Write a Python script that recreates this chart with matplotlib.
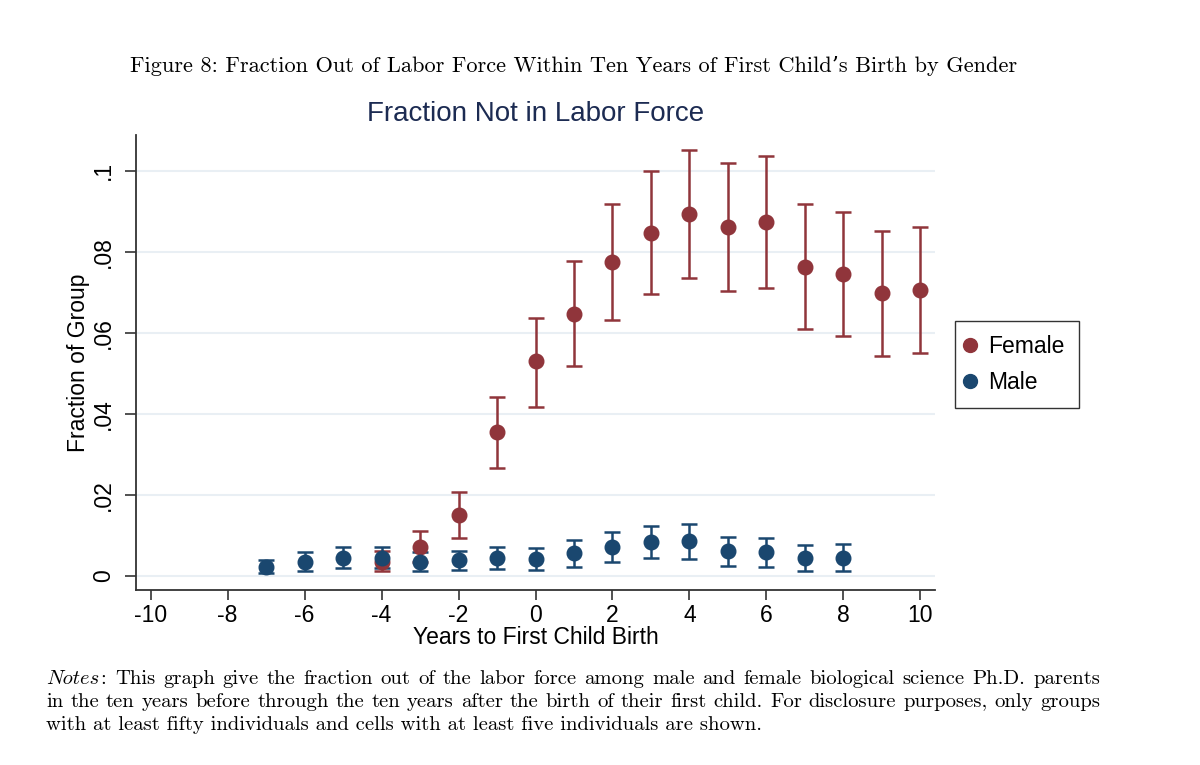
import matplotlib
matplotlib.use("Agg")
import matplotlib.pyplot as plt
from matplotlib import font_manager
from matplotlib.lines import Line2D
import numpy as np

plt.rcParams['axes.unicode_minus'] = False

# ---------------- data ----------------
years_female = [-4, -3, -2, -1, 0, 1, 2, 3, 4, 5, 6, 7, 8, 9, 10]
female_mean = [0.0035, 0.0072, 0.0149, 0.0354, 0.0529, 0.0647, 0.0774, 0.0845, 0.0893, 0.0861, 0.0873, 0.0762, 0.0745, 0.0697, 0.0705]
female_lo   = [0.0011, 0.0035, 0.0093, 0.0266, 0.0417, 0.0517, 0.0632, 0.0695, 0.0736, 0.0703, 0.0711, 0.0608, 0.0592, 0.0543, 0.0549]
female_hi   = [0.0062, 0.0111, 0.0206, 0.0441, 0.0636, 0.0778, 0.0918, 0.0998, 0.1052, 0.1020, 0.1036, 0.0918, 0.0898, 0.0851, 0.0860]

years_male = [-7, -6, -5, -4, -3, -2, -1, 0, 1, 2, 3, 4, 5, 6, 7, 8]
male_mean = [0.0023, 0.0035, 0.0044, 0.0043, 0.0035, 0.0038, 0.0044, 0.0041, 0.0057, 0.0071, 0.0083, 0.0085, 0.0061, 0.0058, 0.0044, 0.0045]
male_lo   = [0.0008, 0.0013, 0.0019, 0.0020, 0.0012, 0.0015, 0.0018, 0.0015, 0.0023, 0.0034, 0.0043, 0.0042, 0.0025, 0.0021, 0.0012, 0.0013]
male_hi   = [0.0038, 0.0058, 0.0070, 0.0071, 0.0058, 0.0062, 0.0072, 0.0069, 0.0089, 0.0109, 0.0123, 0.0128, 0.0096, 0.0094, 0.0076, 0.0078]

x_ticks = [-10, -8, -6, -4, -2, 0, 2, 4, 6, 8, 10]
x_tick_labels = ['-10', '-8', '-6', '-4', '-2', '0', '2', '4', '6', '8', '10']
y_ticks = [0, 0.02, 0.04, 0.06, 0.08, 0.1]
y_tick_labels = ['0', '.02', '.04', '.06', '.08', '.1']

caption = "Figure 8: Fraction Out of Labor Force Within Ten Years of First Child\u2019s Birth by Gender"
notes_lines = [
    "This graph give the fraction out of the labor force among male and female biological science Ph.D. parents",
    "in the ten years before through the ten years after the birth of their first child. For disclosure purposes, only groups",
    "with at least fifty individuals and cells with at least five individuals are shown.",
]

# ---------------- styling ----------------
FEMALE = '#90353b'
MALE = '#1a476f'
TITLE_C = '#1c2b52'
GRID_C = '#e9eff4'
SANS = ['Liberation Sans', 'DejaVu Sans']
installed = {f.name for f in font_manager.fontManager.ttflist}
if 'Liberation Sans Narrow' in installed:
    NARROW = ['Liberation Sans Narrow', 'Liberation Sans', 'DejaVu Sans']
    NFS = 20
else:
    NARROW = SANS
    NFS = 16.5
SERIF = ['cmr10', 'DejaVu Serif']

W, H = 1200, 765
fig = plt.figure(figsize=(W / 100, H / 100), dpi=100)
fig.patch.set_facecolor('white')

L, R, T, B = 136, 935, 135, 590
ax = fig.add_axes([L / W, 1 - B / H, (R - L) / W, (B - T) / H])

def draw(x, m, lo, hi, color, label):
    m = np.array(m); lo = np.array(lo); hi = np.array(hi)
    ax.errorbar(x, m, yerr=[m - lo, hi - m], fmt='o', color=color, ecolor=color,
                markersize=10.5, elinewidth=1.8, capsize=6, capthick=1.8, label=label,
                zorder=3)

draw(years_female, female_mean, female_lo, female_hi, FEMALE, 'Female')
draw(years_male, male_mean, male_lo, male_hi, MALE, 'Male')

ax.set_xlim(-10.38, 10.38)
ax.set_ylim(-0.0035, 0.1088)
ax.set_xticks(x_ticks)
ax.set_xticklabels(x_tick_labels, fontfamily=NARROW, fontsize=NFS)
ax.set_yticks(y_ticks)
ax.set_yticklabels(y_tick_labels, fontfamily=NARROW, fontsize=NFS, rotation=90, va='center')
ax.tick_params(axis='x', length=7, width=1.2, color='#333333', pad=3)
ax.tick_params(axis='y', length=8, width=1.2, color='#333333', pad=7)
ax.grid(axis='y', color=GRID_C, linewidth=1.5, zorder=0)
ax.set_axisbelow(True)
for s in ['top', 'right']:
    ax.spines[s].set_visible(False)
for s in ['left', 'bottom']:
    ax.spines[s].set_linewidth(1.3)
    ax.spines[s].set_color('#333333')

ax.set_xlabel('Years to First Child Birth', fontfamily=NARROW, fontsize=NFS, va='center')
ax.xaxis.set_label_coords(0.5, -(638 - B) / (B - T))
ax.set_ylabel('Fraction of Group', fontfamily=NARROW, fontsize=NFS, va='center')
ax.yaxis.set_label_coords(-(L - 79) / (R - L), 0.5)
ax.set_title('Fraction Not in Labor Force', fontfamily=SANS, fontsize=20, color=TITLE_C, pad=10)

h2 = [Line2D([], [], marker='o', linestyle='none', color=c, markersize=10) for c in [FEMALE, MALE]]
leg = fig.legend(h2, ['Female', 'Male'], loc='center left',
                 bbox_to_anchor=(955 / W, 1 - 364.5 / H), prop={'family': SANS, 'size': 16.5},
                 frameon=True, fancybox=False, edgecolor='black', handletextpad=0.74,
                 handlelength=0.1, borderpad=0.61, labelspacing=0.57, borderaxespad=0)
leg.get_frame().set_linewidth(1.0)

# caption
fig.text(130 / W, 1 - 72 / H, caption, fontfamily=SERIF, fontsize=16.1, va='baseline', ha='left')

# notes
fig.canvas.draw()
renderer = fig.canvas.get_renderer()
NOTE_FS = 14.9
x_left = 46
x_right = 1100
baselines = [684, 707, 730]
t_n = fig.text(x_left / W, 1 - baselines[0] / H, 'Notes', fontfamily=['cmmi10', 'DejaVu Serif'],
               fontsize=NOTE_FS, va='baseline', ha='left')
bb = t_n.get_window_extent(renderer)
t_c = fig.text((bb.x1 + 1) / W, 1 - baselines[0] / H, ':', fontfamily=SERIF,
               fontsize=NOTE_FS, va='baseline', ha='left')
bb2 = t_c.get_window_extent(renderer)
first_start = bb2.x1 + 9

for i, line in enumerate(notes_lines):
    start = first_start if i == 0 else x_left
    words = line.split(' ')
    y = 1 - baselines[i] / H
    if i < 2:
        texts = [fig.text(0, y, w, fontfamily=SERIF, fontsize=NOTE_FS, va='baseline', ha='left') for w in words]
        widths = [t.get_window_extent(renderer).width for t in texts]
        gap = (x_right - start - sum(widths)) / (len(words) - 1)
        xpos = start
        for t, wdt in zip(texts, widths):
            t.set_x(xpos / W)
            xpos += wdt + gap
    else:
        fig.text(start / W, y, line, fontfamily=SERIF, fontsize=NOTE_FS, va='baseline', ha='left')

fig.savefig('out.png', dpi=100, facecolor='white')
